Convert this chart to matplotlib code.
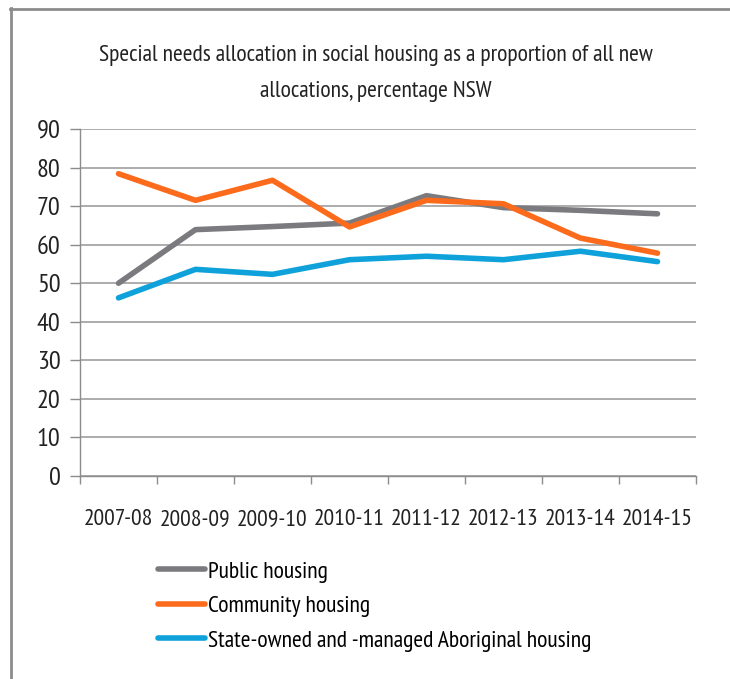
import matplotlib
matplotlib.use("Agg")
import matplotlib.pyplot as plt
from matplotlib.lines import Line2D

plt.rcParams['font.family'] = ['PT Sans Narrow', 'DejaVu Sans']

years = ['2007-08', '2008-09', '2009-10', '2010-11', '2011-12', '2012-13', '2013-14', '2014-15']
public = [50.0, 63.9, 64.7, 65.6, 72.7, 69.6, 68.9, 68.0]
community = [78.4, 71.5, 76.7, 64.6, 71.5, 70.6, 61.7, 57.8]
aboriginal = [46.2, 53.6, 52.3, 56.1, 57.0, 56.1, 58.3, 55.6]
yticks = list(range(0, 91, 10))

W, H = 730, 679
fig = plt.figure(figsize=(W / 100, H / 100), dpi=100)
ax = fig.add_axes([80 / W, 1 - 476 / H, 616 / W, 347 / H])

x = list(range(len(years)))
ax.plot(x, public, color='#7b7b7f', lw=4, solid_capstyle='round', label='Public housing', zorder=3)
ax.plot(x, community, color='#fc6a1c', lw=4, solid_capstyle='round', label='Community housing', zorder=4)
ax.plot(x, aboriginal, color='#0ea1da', lw=4, solid_capstyle='round',
        label='State-owned and -managed Aboriginal housing', zorder=3)

ax.set_xlim(-0.5, len(years) - 0.5)
ax.set_ylim(0, 90)
ax.set_yticks(yticks)
ax.set_yticklabels([str(v) for v in yticks], fontsize=19, color='#222222')
ax.yaxis.grid(True, color='#a6a6a6', lw=1.3)
ax.set_axisbelow(True)

# category labels at centres, tick marks on the boundaries
ax.set_xticks(x)
ax.set_xticklabels(years, fontsize=17, color='#222222')
ax.tick_params(axis='x', which='major', length=0, pad=24)
ax.set_xticks([i - 0.5 for i in range(len(years) + 1)], minor=True)
ax.tick_params(axis='x', which='minor', length=6, color='#8c8c8c', width=1)
ax.tick_params(axis='y', length=7, color='#8c8c8c', width=1, pad=7)

for s in ['top', 'right']:
    ax.spines[s].set_visible(False)
for s in ['left', 'bottom']:
    ax.spines[s].set_color('#8c8c8c')
    ax.spines[s].set_linewidth(1)

fig.text(376 / W, 1 - 56 / H, 'Special needs allocation in social housing as a proportion of all new',
         ha='center', va='center', fontsize=17, color='#222222')
fig.text(376 / W, 1 - 91 / H, 'allocations, percentage NSW',
         ha='center', va='center', fontsize=17, color='#222222')

fig.legend(loc='upper left', bbox_to_anchor=(158 / W, 1 - 561 / H), frameon=False,
           fontsize=17, handlelength=2.0, handletextpad=0.12, labelspacing=0.55,
           borderpad=0, borderaxespad=0)

# outer chart border (top and left edges visible)
fig.add_artist(Line2D([10 / W, 1], [1 - 8.5 / H, 1 - 8.5 / H], color='#8c8c8c', lw=2, transform=fig.transFigure))
fig.add_artist(Line2D([11 / W, 11 / W], [0, 1 - 8 / H], color='#8c8c8c', lw=2, transform=fig.transFigure))

fig.savefig('out.png', dpi=100)
